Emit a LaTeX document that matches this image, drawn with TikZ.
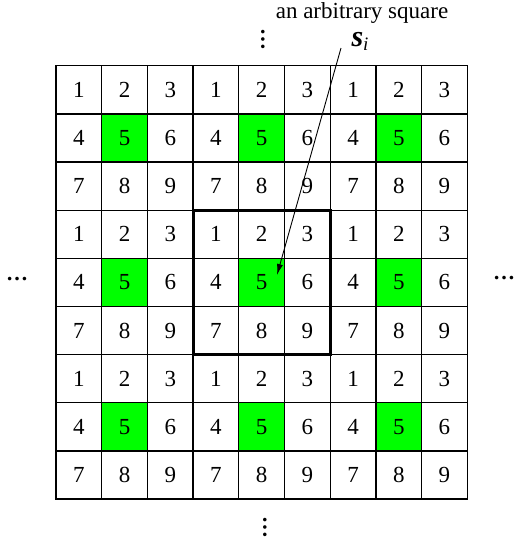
\documentclass[tikz,border=0pt]{standalone}
\usepackage{fontspec}
\setmainfont{Liberation Serif}
\newfontfamily\tnr{Liberation Serif}
\usetikzlibrary{arrows.meta}
\definecolor{cellgreen}{RGB}{0,255,0}
\begin{document}
\begin{tikzpicture}[x=1pt,y=-1pt,
  every node/.style={font=\tnr},
  cell/.style={draw=black, line width=1.3pt, minimum width=45.7pt, minimum height=48.15pt,
    inner sep=0pt, outer sep=0pt, font=\tnr\fontsize{23}{23}\selectfont},
  bigbox/.style={draw=black, line width=3pt},
  pointer/.style={-{Latex[length=11pt,width=6pt]}, line width=0.9pt},
  dots/.style={font=\tnr\fontsize{22}{22}\selectfont\bfseries, inner sep=0pt}]
\useasboundingbox (0,0) rectangle (514,539);
\foreach \r in {0,...,8} {
  \foreach \c in {0,...,8} {
    \pgfmathtruncatemacro{\v}{3*mod(\r,3)+mod(\c,3)+1}
    \ifnum\v=5 \def\fillc{cellgreen}\else\def\fillc{white}\fi
    \node[cell, fill=\fillc] (c-\r-\c) at ({56+(\c+0.5)*45.7},{65.7+(\r+0.5)*48.15}) {\v};
  }
}
\draw[bigbox] (c-3-3.north west) rectangle (c-5-5.south east);
\node[font=\tnr\fontsize{23}{23}\selectfont, inner sep=0pt, text height=11pt, text depth=4pt] (lab) at (362,15) {an arbitrary square};
\node[font=\tnr\fontsize{30}{30}\selectfont, inner sep=0pt, text height=13pt, text depth=5pt] (si) at (360,42) {\textbf{\textit{s}}\raisebox{-0.35ex}{\fontsize{19}{19}\selectfont\textit{i}}};
\coordinate (tail) at (341,48);
\coordinate (tip) at (277,275);
\draw[pointer] (tail) -- (tip);
\node[dots, rotate=90] (dtop) at (263,39) {…};
\node[dots, rotate=90] (dbot) at (265,527) {…};
\node[dots] (dleft) at (17,279) {…};
\node[dots] (dright) at (504,278) {…};
\end{tikzpicture}
\end{document}
